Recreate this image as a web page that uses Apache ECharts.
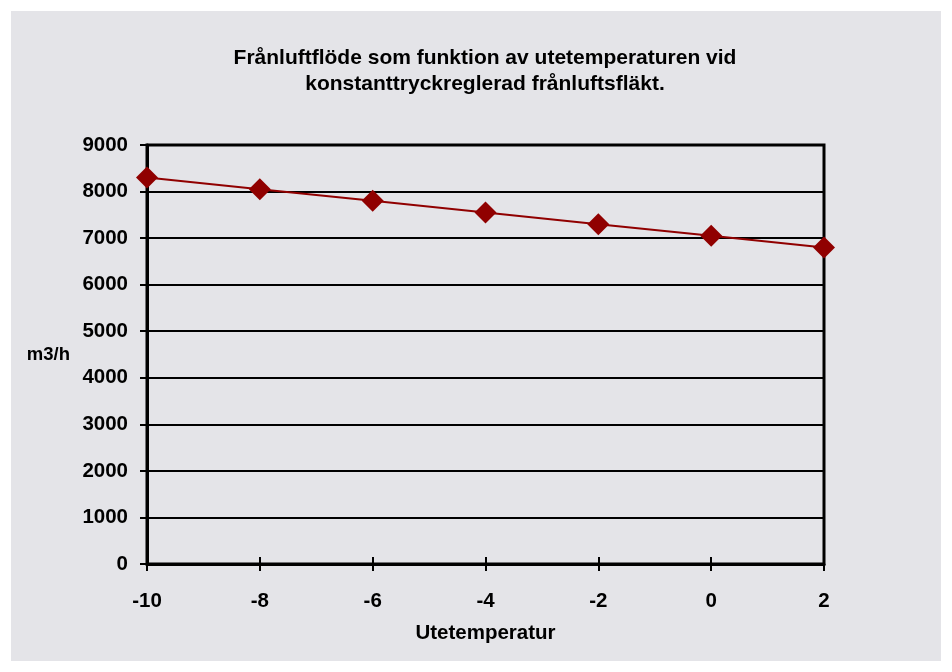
<!DOCTYPE html>
<html><head><meta charset="utf-8">
<script src="https://cdn.jsdelivr.net/npm/echarts@6/dist/echarts.min.js"></script>
<style>html,body{margin:0;padding:0;background:#fff}#c{width:952px;height:672px}</style>
</head><body><div id="c"></div>
<script>
const titleText = 'Frånluftflöde som funktion av utetemperaturen vid\nkonstanttryckreglerad frånluftsfläkt.';
const xName = 'Utetemperatur';
const yName = 'm3/h';
const temps = [-10, -8, -6, -4, -2, 0, 2];
const flows = [8300, 8050, 7800, 7550, 7300, 7050, 6800];

const chart = echarts.init(document.getElementById('c'), null, {renderer: 'canvas'});
const font = 'Liberation Sans, Arial, sans-serif';
const fs = 20.5;
chart.setOption({
  backgroundColor: '#ffffff',
  animation: false,
  graphic: [{type: 'rect', z: -10, shape: {x: 11, y: 11, width: 930, height: 650}, style: {fill: '#e4e4e8'}}],
  title: {
    text: titleText, left: 480, top: 40, textAlign: 'center',
    textStyle: {fontFamily: font, fontSize: 21, fontWeight: 'bold', color: '#000', lineHeight: 26}
  },
  grid: {left: 147, right: 128, top: 145, bottom: 108, show: true, borderColor: '#000', borderWidth: 3, backgroundColor: 'transparent'},
  xAxis: [{
    type: 'value', min: -10, max: 2, interval: 2,
    name: xName, nameLocation: 'middle', nameGap: 59,
    nameTextStyle: {fontFamily: font, fontSize: fs, fontWeight: 'bold', color: '#000'},
    axisLine: {show: true, onZero: false, lineStyle: {color: '#000', width: 3}},
    axisTick: {show: true, length: 7, lineStyle: {color: '#000', width: 2}},
    axisLabel: {margin: 27, fontFamily: font, fontSize: fs, fontWeight: 'bold', color: '#000'},
    splitLine: {show: false}
  }, {
    type: 'value', min: -10, max: 2, interval: 2, position: 'bottom',
    axisLine: {show: false, onZero: false},
    axisTick: {show: true, inside: true, length: 7, lineStyle: {color: '#000', width: 2}},
    axisLabel: {show: false}, splitLine: {show: false}
  }],
  yAxis: {
    type: 'value', min: 0, max: 9000, interval: 1000,
    name: yName, nameLocation: 'middle', nameRotate: 0, nameGap: 77,
    nameTextStyle: {fontFamily: font, fontSize: 18.5, fontWeight: 'bold', color: '#000', align: 'right'},
    axisLine: {show: true, onZero: false, lineStyle: {color: '#000', width: 3}},
    axisTick: {show: true, length: 7, lineStyle: {color: '#000', width: 2}},
    axisLabel: {margin: 19, fontFamily: font, fontSize: fs, fontWeight: 'bold', color: '#000', formatter: v => String(v)},
    splitLine: {show: true, lineStyle: {color: '#000', width: 2}}
  },
  series: [{
    type: 'line', xAxisIndex: 0,
    data: temps.map((t, i) => [t, flows[i]]),
    symbol: 'diamond', symbolSize: [22, 22],
    lineStyle: {color: '#900000', width: 2},
    itemStyle: {color: '#900000'},
    z: 5
  }]
});
</script></body></html>
